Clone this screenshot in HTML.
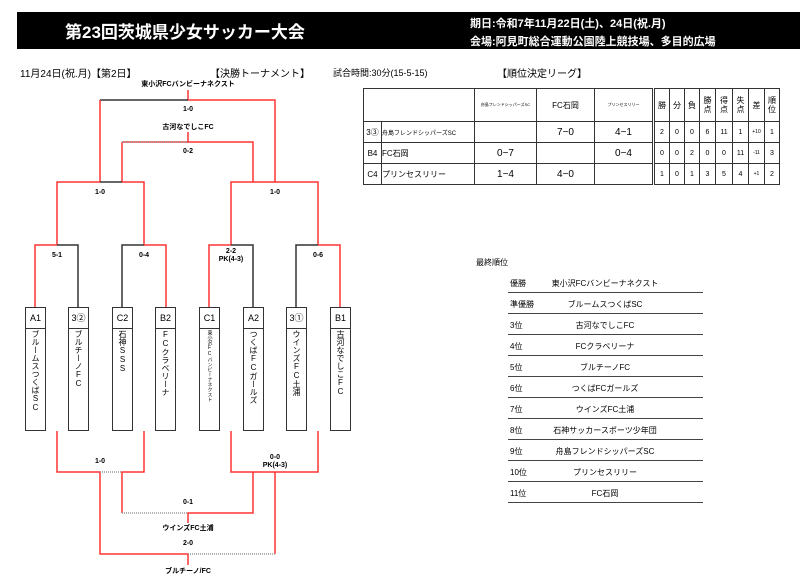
<!DOCTYPE html>
<html><head><meta charset="utf-8"><style>
body{margin:0;width:800px;height:580px;background:#fff;position:relative;overflow:hidden;font-family:"Liberation Sans","Noto Sans CJK JP",sans-serif;color:#000}
.a{position:absolute;white-space:nowrap}
.b{font-weight:bold}
.c{transform:translateX(-50%);text-align:center}
.s{font-size:7px;font-weight:bold}
.box{position:absolute;top:307px;width:21px;height:124px;border:1px solid #333;box-sizing:border-box;background:#fff}
.box .h{height:20px;border-bottom:1px solid #333;font-size:9px;text-align:center;line-height:20px}
.box .v{writing-mode:vertical-rl;text-orientation:upright;font-size:8px;margin:1px auto 0;line-height:19px;letter-spacing:0}
table{position:absolute;left:363px;top:88px;border-collapse:collapse;font-size:8px;table-layout:fixed;width:416px}
td{border:1px solid #333;text-align:center;padding:0;height:20px;overflow:hidden;white-space:nowrap}
.rk{position:absolute;left:508px;width:195px;border-bottom:1.5px solid #444;height:14px;font-size:8px}
</style></head><body>
<div class="a" style="left:17px;top:12px;width:783px;height:37px;background:#000"></div>
<div class="a b" style="left:65px;top:18px;font-size:17px;color:#fff">第23回茨城県少女サッカー大会</div>
<div class="a b" style="left:470px;top:15px;font-size:11px;color:#fff">期日:令和7年11月22日(土)、24日(祝.月)</div>
<div class="a b" style="left:470px;top:33px;font-size:11px;color:#fff">会場:阿見町総合運動公園陸上競技場、多目的広場</div>
<div class="a" style="left:20px;top:65px;font-size:10px">11月24日(祝.月)【第2日】</div>
<div class="a" style="left:210px;top:65px;font-size:10px">【決勝トーナメント】</div>
<div class="a" style="left:333px;top:66px;font-size:9px">試合時間:30分(15-5-15)</div>
<div class="a" style="left:497px;top:65px;font-size:10px">【順位決定リーグ】</div>

<svg class="a" style="left:0;top:0" width="800" height="580">
<g fill="none" stroke-width="1.5">
<path d="M188 90V100H275V182M122 142H188" stroke="#f33" />
<path d="M188 100H100" stroke="#333"/>
<path d="M100 100V182M188 132V142H253V182M122 142V182" stroke="#f33"/>
<path d="M122 142H188" stroke="#999" stroke-dasharray="1,1"/>
<path d="M57 245V182H100M122 182H144V245M231 245V182H318V245" stroke="#f33"/>
<path d="M100 182H122" stroke="#333"/>
<path d="M35 307V245H57M144 245H166V307M209 307V245H231M318 245H340V307" stroke="#f33"/>
<path d="M57 245H78V307M122 307V245H144M231 245H253V307M296 307V245H318" stroke="#333"/>
<path d="M57 431V472H100V554H188V565M144 431V472H122V513M231 431V472H318V431M253 472V513H188V523M275 472V554" stroke="#f33"/>
<path d="M100 472H122M122 513H188M188 554H275" stroke="#999" stroke-dasharray="1,1"/>
</g>
</svg>
<div class="a s c" style="left:188px;top:79px">東小沢FCバンビーナネクスト</div>
<div class="a s c" style="left:188px;top:106px">1-0</div>
<div class="a s c" style="left:188px;top:122px">古河なでしこFC</div>
<div class="a s c" style="left:188px;top:148px">0-2</div>
<div class="a s c" style="left:100px;top:189px">1-0</div>
<div class="a s c" style="left:275px;top:189px">1-0</div>
<div class="a s c" style="left:57px;top:252px">5-1</div>
<div class="a s c" style="left:144px;top:252px">0-4</div>
<div class="a s c" style="left:231px;top:248px;line-height:8px">2-2<br>PK(4-3)</div>
<div class="a s c" style="left:318px;top:252px">0-6</div>
<div class="a s c" style="left:100px;top:458px">1-0</div>
<div class="a s c" style="left:275px;top:454px;line-height:8px">0-0<br>PK(4-3)</div>
<div class="a s c" style="left:188px;top:499px">0-1</div>
<div class="a s c" style="left:188px;top:523px">ウインズFC土浦</div>
<div class="a s c" style="left:188px;top:540px">2-0</div>
<div class="a s c" style="left:188px;top:566px">ブルチーノ/FC</div>

<div class="box" style="left:25px"><div class="h">A1</div><div class="v">ブルームスつくばSC</div></div>
<div class="box" style="left:68px"><div class="h">3②</div><div class="v">ブルチーノFC</div></div>
<div class="box" style="left:112px"><div class="h">C2</div><div class="v">石神SSS</div></div>
<div class="box" style="left:155px"><div class="h">B2</div><div class="v">FCクラベリーナ</div></div>
<div class="box" style="left:199px"><div class="h">C1</div><div class="v" style="font-size:5px;line-height:10px">東小沢FCバンビーナネクスト</div></div>
<div class="box" style="left:243px"><div class="h">A2</div><div class="v">つくばFCガールズ</div></div>
<div class="box" style="left:286px"><div class="h">3①</div><div class="v">ウインズFC土浦</div></div>
<div class="box" style="left:330px"><div class="h">B1</div><div class="v">古河なでしこFC</div></div>

<table>
<colgroup><col style="width:18px"><col style="width:93px"><col style="width:62px"><col style="width:58px"><col style="width:59px"><col style="width:16px"><col style="width:15px"><col style="width:15px"><col style="width:16px"><col style="width:17px"><col style="width:16px"><col style="width:16px"><col style="width:15px"></colgroup>
<tr style="height:33px"><td colspan="2"></td><td style="font-size:4px">舟島フレンドシッパーズSC</td><td>FC石岡</td><td style="font-size:4px">プリンセスリリー</td><td style="border-left:3px double #333">勝</td><td>分</td><td>負</td><td style="line-height:9px">勝<br>点</td><td style="line-height:9px">得<br>点</td><td style="line-height:9px">失<br>点</td><td>差</td><td style="line-height:9px">順<br>位</td></tr>
<tr><td>3③</td><td style="text-align:left;font-size:6px">舟島フレンドシッパーズSC</td><td></td><td style="font-size:10px">7−0</td><td style="font-size:10px">4−1</td><td style="border-left:3px double #333;font-size:7px">2</td><td style="font-size:7px">0</td><td style="font-size:7px">0</td><td style="font-size:7px">6</td><td style="font-size:7px">11</td><td style="font-size:7px">1</td><td style="font-size:5px">+10</td><td style="font-size:7px">1</td></tr>
<tr><td>B4</td><td style="text-align:left">FC石岡</td><td style="font-size:10px">0−7</td><td></td><td style="font-size:10px">0−4</td><td style="border-left:3px double #333;font-size:7px">0</td><td style="font-size:7px">0</td><td style="font-size:7px">2</td><td style="font-size:7px">0</td><td style="font-size:7px">0</td><td style="font-size:7px">11</td><td style="font-size:5px">-11</td><td style="font-size:7px">3</td></tr>
<tr><td>C4</td><td style="text-align:left">プリンセスリリー</td><td style="font-size:10px">1−4</td><td style="font-size:10px">4−0</td><td></td><td style="border-left:3px double #333;font-size:7px">1</td><td style="font-size:7px">0</td><td style="font-size:7px">1</td><td style="font-size:7px">3</td><td style="font-size:7px">5</td><td style="font-size:7px">4</td><td style="font-size:5px">+1</td><td style="font-size:7px">2</td></tr>
</table>

<div class="a" style="left:476px;top:257px;font-size:8px">最終順位</div>
<div class="rk" style="top:278px"><span class="a" style="left:2px">優勝</span><span class="a c" style="left:97px">東小沢FCバンビーナネクスト</span></div>
<div class="rk" style="top:299px"><span class="a" style="left:2px">準優勝</span><span class="a c" style="left:97px">ブルームスつくばSC</span></div>
<div class="rk" style="top:320px"><span class="a" style="left:2px">3位</span><span class="a c" style="left:97px">古河なでしこFC</span></div>
<div class="rk" style="top:341px"><span class="a" style="left:2px">4位</span><span class="a c" style="left:97px">FCクラベリーナ</span></div>
<div class="rk" style="top:362px"><span class="a" style="left:2px">5位</span><span class="a c" style="left:97px">ブルチーノFC</span></div>
<div class="rk" style="top:383px"><span class="a" style="left:2px">6位</span><span class="a c" style="left:97px">つくばFCガールズ</span></div>
<div class="rk" style="top:404px"><span class="a" style="left:2px">7位</span><span class="a c" style="left:97px">ウインズFC土浦</span></div>
<div class="rk" style="top:425px"><span class="a" style="left:2px">8位</span><span class="a c" style="left:97px">石神サッカースポーツ少年団</span></div>
<div class="rk" style="top:446px"><span class="a" style="left:2px">9位</span><span class="a c" style="left:97px">舟島フレンドシッパーズSC</span></div>
<div class="rk" style="top:467px"><span class="a" style="left:2px">10位</span><span class="a c" style="left:97px">プリンセスリリー</span></div>
<div class="rk" style="top:488px"><span class="a" style="left:2px">11位</span><span class="a c" style="left:97px">FC石岡</span></div>
</body></html>
